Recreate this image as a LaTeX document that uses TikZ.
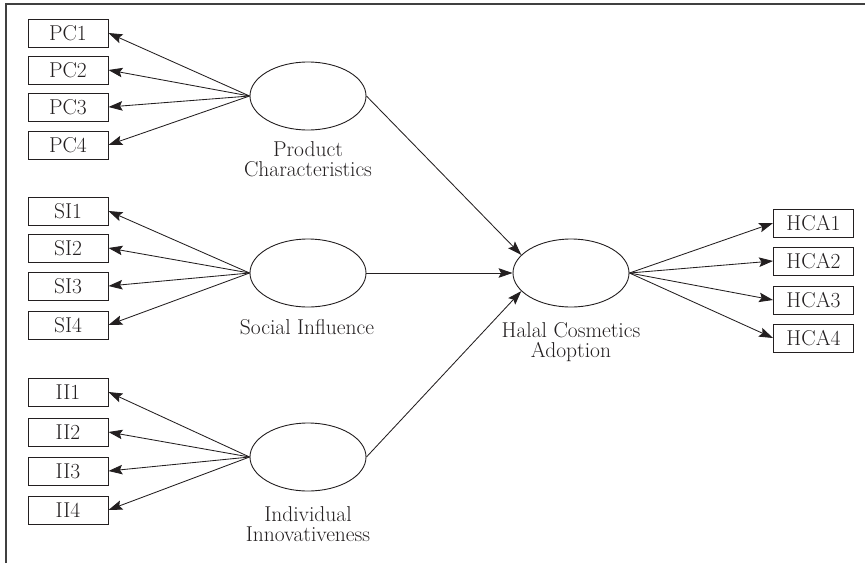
\documentclass[tikz,border=0pt]{standalone}
\usetikzlibrary{arrows.meta,shapes.geometric}
\definecolor{ink}{HTML}{231F20}
\begin{document}
\begin{tikzpicture}[x=1pt,y=-1pt,
  every node/.style={font=\fontsize{21.5pt}{20.5pt}\selectfont, text=ink},
  ind/.style={draw=ink, line width=0.9pt, minimum width=80pt, minimum height=28pt, inner sep=0pt},
  lat/.style={ellipse, draw=ink, line width=0.9pt, minimum width=116pt, minimum height=68pt, inner sep=0pt},
  lbl/.style={anchor=north, align=center, inner sep=0pt},
  arr/.style={-{Stealth[length=14pt,width=9.5pt,inset=2.5pt]}, line width=0.85pt, draw=ink},
  frame/.style={draw=black!75, line width=1.5pt}]
\useasboundingbox (0,0) rectangle (865,563);
\draw[frame] (6,563) -- (6,4) -- (865,4);

% latent variables
\node[lat] (PC) at (308,96) {};
\node[lat] (SI) at (308,273) {};
\node[lat] (II) at (308,457) {};
\node[lat] (HCA) at (571,273) {};

\node[lbl] (PCl) at (308,141) {Product\\Characteristics};
\node[lbl] (SIl) at (307,319) {Social Influence};
\node[lbl] (IIl) at (308,506) {Individual\\Innovativeness};
\node[lbl] (HCAl) at (571,322) {Halal Cosmetics\\Adoption};

% indicators
\node[ind] (pc1) at (68,33) {PC1};
\node[ind] (pc2) at (68,70) {PC2};
\node[ind] (pc3) at (68,107) {PC3};
\node[ind] (pc4) at (68,145) {PC4};
\node[ind] (si1) at (68,211) {SI1};
\node[ind] (si2) at (68,248) {SI2};
\node[ind] (si3) at (68,286) {SI3};
\node[ind] (si4) at (68,325) {SI4};
\node[ind] (ii1) at (68,392) {II1};
\node[ind] (ii2) at (68,432) {II2};
\node[ind] (ii3) at (68,471) {II3};
\node[ind] (ii4) at (68,510) {II4};
\node[ind] (hca1) at (813.5,223) {HCA1};
\node[ind] (hca2) at (813.5,261) {HCA2};
\node[ind] (hca3) at (813.5,300) {HCA3};
\node[ind] (hca4) at (813.5,338) {HCA4};

% loadings
\foreach \i in {1,2,3,4} {
  \draw[arr] (PC.west) -- (pc\i.east);
  \draw[arr] (SI.west) -- (si\i.east);
  \draw[arr] (II.west) -- (ii\i.east);
  \draw[arr] (HCA.east) -- (hca\i.west);
}

% structural paths
\draw[arr] (PC.east) -- (HCA.160);
\draw[arr] (SI.east) -- (HCA.west);
\draw[arr] (II.east) -- (HCA.200);
\end{tikzpicture}
\end{document}
